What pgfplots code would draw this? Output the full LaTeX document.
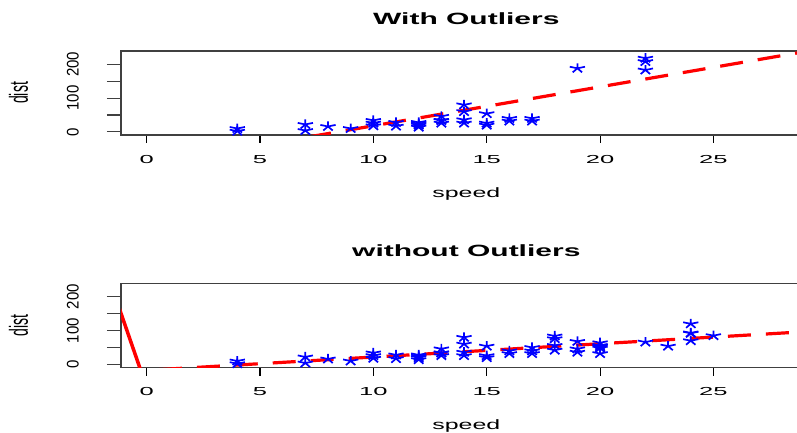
\documentclass[border=0pt]{standalone}
\usepackage{pgfplots}
\pgfplotsset{compat=1.18}
\usepackage{pgfplotstable}
\usepackage{fontspec}
\setmainfont{Liberation Sans}

% cars data, speed <= 17 part plus added outliers
\pgfplotstableread{
speed dist
4 2
4 10
7 4
7 22
8 16
9 10
10 18
10 26
10 34
11 17
11 28
12 14
12 20
12 24
12 28
13 26
13 34
13 34
13 46
14 26
14 36
14 60
14 80
15 20
15 26
15 54
16 32
16 40
17 32
17 40
19 188
22 183
22 208
22 218
}\without

% full cars data
\pgfplotstableread{
speed dist
4 2
4 10
7 4
7 22
8 16
9 10
10 18
10 26
10 34
11 17
11 28
12 14
12 20
12 24
12 28
13 26
13 34
13 34
13 46
14 26
14 36
14 60
14 80
15 20
15 26
15 54
16 32
16 40
17 32
17 40
17 50
18 42
18 56
18 76
18 84
19 36
19 46
19 68
20 32
20 48
20 52
20 56
20 64
22 66
23 54
24 70
24 92
24 93
24 120
25 85
}\cars

\pgfplotsset{
  rplot/.style={
    scale only axis, width=690.6bp, height=84bp,
    xmin=-1.13, xmax=29.33, ymin=-9.2, ymax=239.2,
    axis line style={black!75, line width=1.1bp},
    /pgf/number format/assume math mode=true,
    xtick={0,5,...,25}, ytick={0,50,...,200},
    tick align=outside, xtick pos=left, ytick pos=left,
    xtick style={/pgfplots/major tick length=8bp, black, line width=1.1bp},
    ytick style={/pgfplots/major tick length=14bp, black!75, line width=1.1bp},
    xticklabel={\scalebox{2.2}[1]{\pgfmathprintnumber{\tick}}},
    xticklabel style={font=\fontsize{11.6bp}{12bp}\selectfont, anchor=base, yshift=-24bp},
    yticklabels={\scalebox{1}[1.12]{0},,\scalebox{1}[1.12]{100},,\scalebox{1}[1.12]{200}},
    yticklabel style={font=\fontsize{15bp}{16bp}\selectfont, xshift=-38bp, rotate=90, anchor=base},
    title style={at={(axis description cs:0.5,1.245)}, anchor=base, font=\fontsize{16.3bp}{18bp}\selectfont\bfseries},
    xlabel={\scalebox{1.83}[1]{speed}},
    xlabel style={at={(axis description cs:0.5,-0.74)}, anchor=base, font=\fontsize{13.6bp}{15bp}\selectfont},
    ylabel={\scalebox{1}[1.87]{dist}},
    ylabel style={at={(axis description cs:-0.1347,0.5)}, anchor=base, font=\fontsize{14bp}{16bp}\selectfont},
  },
  pts/.style={only marks, mark=star, mark size=5bp, blue, mark options={xscale=1.6, line width=1.7bp}},
  fit/.style={red, line width=3.2bp, dash pattern=on 23bp off 15bp},
}

\begin{document}
\begin{tikzpicture}
\useasboundingbox (0bp,0bp) rectangle (797bp,433bp);

\begin{axis}[rplot, at={(121bp,298bp)}, anchor=south west,
  title={\scalebox{1.84}[1]{With Outliers}}]
\addplot[pts] table[x=speed, y=dist] {\without};
\addplot[fit] coordinates {(-1.13,-110.2) (29.33,240.7)};
\end{axis}

\begin{axis}[rplot, at={(121bp,65.5bp)}, anchor=south west,
  title={\scalebox{1.84}[1]{without Outliers}}]
\addplot[pts] table[x=speed, y=dist] {\cars};
\addplot[fit] coordinates {(-1.13,-22.02) (29.33,97.74)};
\addplot[red, line width=3.5bp] coordinates {(-1.2,164.6) (-0.25,-19.7)};
\end{axis}
\end{tikzpicture}
\end{document}
